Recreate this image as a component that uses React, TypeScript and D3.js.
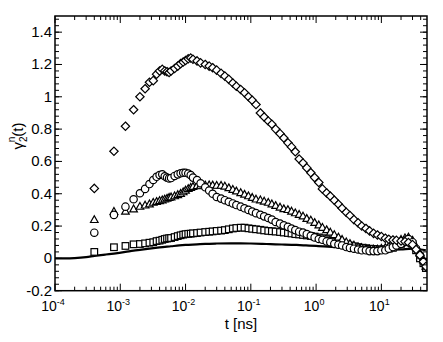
import React, { useEffect, useRef } from 'react';
import * as d3 from 'd3';

// time grid (ns) shared by the symbol series
const tValues = [
  4e-4, 8e-4, 1.2e-3, 1.6e-3, 2.0e-3, 2.4e-3, 2.8e-3, 3.2e-3, 3.6e-3, 4.0e-3,
  4.4e-3, 4.8e-3, 5.2e-3, 5.6e-3, 6.0e-3, 6.8e-3, 7.6e-3, 8.4e-3, 9.2e-3, 1.0e-2,
  1.1e-2, 1.2e-2, 1.3e-2, 1.5e-2, 1.7e-2, 2.0e-2, 2.3e-2, 2.6e-2, 3.0e-2, 3.5e-2,
  4.0e-2, 4.6e-2, 5.3e-2, 6.0e-2, 7.0e-2, 8.0e-2, 9.2e-2, 0.105, 0.12, 0.14,
  0.16, 0.185, 0.21, 0.24, 0.28, 0.32, 0.37, 0.42, 0.48, 0.55,
  0.63, 0.72, 0.83, 0.95, 1.1, 1.25, 1.45, 1.65, 1.9, 2.2,
  2.5, 2.9, 3.3, 3.8, 4.4, 5.0, 5.8, 6.6, 7.6, 8.7,
  10, 11.5, 13, 15, 17, 20, 23, 26, 30, 34,
  39, 44, 48,
];

const diamondValues = [
  0.433, 0.663, 0.818, 0.92, 1.0, 1.05, 1.09, 1.1, 1.14, 1.16,
  1.17, 1.16, 1.155, 1.15, 1.16, 1.175, 1.19, 1.205, 1.215, 1.225,
  1.235, 1.24, 1.232, 1.222, 1.21, 1.2, 1.19, 1.18, 1.165, 1.145,
  1.128, 1.108, 1.085, 1.065, 1.045, 1.025, 1.0, 0.978, 0.952, 0.9,
  0.875, 0.85, 0.83, 0.8, 0.772, 0.745, 0.715, 0.69, 0.66, 0.615,
  0.59, 0.56, 0.53, 0.5, 0.47, 0.43, 0.405, 0.385, 0.36, 0.335,
  0.31, 0.285, 0.265, 0.24, 0.22, 0.2, 0.185, 0.17, 0.155, 0.145,
  0.135, 0.125, 0.118, 0.114, 0.112, 0.108, 0.104, 0.098, 0.085, 0.055,
  0.02, -0.02, -0.05,
];

const circleValues = [
  0.159, 0.269, 0.32, 0.366, 0.403, 0.43, 0.46, 0.485, 0.505, 0.516,
  0.52, 0.508, 0.5, 0.495, 0.497, 0.51, 0.52, 0.527, 0.53, 0.53,
  0.525, 0.515, 0.5, 0.485, 0.465, 0.44, 0.42, 0.4, 0.38, 0.37,
  0.36, 0.35, 0.34, 0.33, 0.32, 0.31, 0.3, 0.29, 0.28, 0.27,
  0.26, 0.25, 0.24, 0.225, 0.215, 0.205, 0.195, 0.185, 0.175, 0.165,
  0.16, 0.15, 0.14, 0.13, 0.12, 0.115, 0.105, 0.1, 0.09, 0.085,
  0.08, 0.07, 0.065, 0.06, 0.055, 0.05, 0.05, 0.045, 0.045, 0.045,
  0.05, 0.05, 0.06, 0.07, 0.08, 0.09, 0.11, 0.12, 0.1, 0.06,
  0.02, -0.02, -0.04,
];

const triangleValues = [
  0.238, 0.289, 0.29, 0.304, 0.32, 0.328, 0.335, 0.345, 0.35, 0.355,
  0.36, 0.365, 0.37, 0.375, 0.378, 0.385, 0.392, 0.4, 0.41, 0.42,
  0.43, 0.437, 0.443, 0.448, 0.45, 0.452, 0.453, 0.452, 0.45, 0.45,
  0.445, 0.435, 0.425, 0.415, 0.405, 0.395, 0.385, 0.375, 0.365, 0.36,
  0.352, 0.345, 0.335, 0.325, 0.315, 0.305, 0.3, 0.29, 0.28, 0.27,
  0.26, 0.245, 0.235, 0.22, 0.205, 0.19, 0.175, 0.16, 0.145, 0.13,
  0.115, 0.1, 0.09, 0.08, 0.07, 0.065, 0.06, 0.055, 0.055, 0.055,
  0.06, 0.065, 0.075, 0.085, 0.1, 0.115, 0.125, 0.13, 0.11, 0.07,
  0.03, -0.01, -0.05,
];

const squareValues = [
  0.04, 0.069, 0.077, 0.087, 0.089, 0.093, 0.097, 0.1, 0.107, 0.11,
  0.115, 0.12, 0.123, 0.125, 0.126, 0.132, 0.138, 0.143, 0.147, 0.15,
  0.152, 0.153, 0.155, 0.157, 0.16, 0.163, 0.165, 0.167, 0.17, 0.172,
  0.175, 0.18, 0.185, 0.188, 0.19, 0.19, 0.186, 0.183, 0.18, 0.177,
  0.173, 0.17, 0.168, 0.166, 0.163, 0.16, 0.157, 0.154, 0.15, 0.148,
  0.145, 0.142, 0.139, 0.135, 0.13, 0.125, 0.118, 0.11, 0.104, 0.098,
  0.092, 0.086, 0.08, 0.075, 0.07, 0.066, 0.063, 0.06, 0.058, 0.056,
  0.055, 0.056, 0.06, 0.065, 0.075, 0.09, 0.1, 0.11, 0.09, 0.05,
  0.0, -0.03, -0.06,
];

// solid reference curve
const lineT = [
  1e-4, 1.5e-4, 2e-4, 3e-4, 4e-4, 6e-4, 8e-4, 1.2e-3, 1.6e-3, 2e-3,
  3e-3, 4e-3, 6e-3, 8e-3, 1e-2, 1.5e-2, 2e-2, 3e-2, 5e-2, 7e-2,
  0.1, 0.15, 0.2, 0.3, 0.5, 0.7, 1, 1.5, 2, 3,
  5, 7, 10, 15, 20, 30, 40, 48,
];
const lineValues = [
  0, 0, 0.002, 0.008, 0.015, 0.024, 0.03, 0.04, 0.048, 0.053,
  0.062, 0.068, 0.075, 0.08, 0.083, 0.087, 0.09, 0.092, 0.093, 0.093,
  0.092, 0.09, 0.088, 0.086, 0.083, 0.08, 0.077, 0.073, 0.069, 0.065,
  0.06, 0.057, 0.055, 0.054, 0.056, 0.06, 0.055, 0.05,
];

const xTickExps = [-4, -3, -2, -1, 0, 1];
const yTicks = [-0.2, 0, 0.2, 0.4, 0.6, 0.8, 1, 1.2, 1.4];

const FONT = "'Liberation Sans', Arial, Helvetica, sans-serif";

const App = () => {
  const svgRef = useRef<SVGSVGElement>(null);

  useEffect(() => {
    const width = 443;
    const height = 342;
    const left = 55;
    const right = 427;
    const top = 16;
    const bottom = 290.7;

    const svg = d3.select(svgRef.current).attr('width', width).attr('height', height);
    svg.selectAll('*').remove();

    const x = d3.scaleLog().domain([1e-4, 50]).range([left, right]);
    const y = d3.scaleLinear().domain([-0.2, 1.5]).range([bottom, top]);

    const clip = svg.append('clipPath').attr('id', 'plot-clip');
    clip.append('rect').attr('x', left).attr('y', top).attr('width', right - left).attr('height', bottom - top);

    const plot = svg.append('g').attr('clip-path', 'url(#plot-clip)');

    // solid curve
    const line = d3
      .line<number>()
      .x((_, i) => x(lineT[i]))
      .y((d) => y(d))
      .curve(d3.curveMonotoneX);
    plot
      .append('path')
      .attr('d', line(lineValues))
      .attr('fill', 'none')
      .attr('stroke', 'black')
      .attr('stroke-width', 2.2);

    const drawSeries = (values: number[], shape: string) => {
      const g = plot.append('g');
      values.forEach((v, i) => {
        const cx = x(tValues[i]);
        const cy = y(v);
        if (shape === 'circle') {
          g.append('circle').attr('cx', cx).attr('cy', cy).attr('r', 3.7);
        } else if (shape === 'square') {
          g.append('rect').attr('x', cx - 3.3).attr('y', cy - 3.3).attr('width', 6.6).attr('height', 6.6);
        } else if (shape === 'triangle') {
          g.append('path').attr('d', `M${cx},${cy - 4.2}L${cx + 3.8},${cy + 2.6}L${cx - 3.8},${cy + 2.6}Z`);
        } else {
          g.append('path').attr('d', `M${cx},${cy - 4.2}L${cx + 4.2},${cy}L${cx},${cy + 4.2}L${cx - 4.2},${cy}Z`);
        }
      });
      g.selectAll('*').attr('fill', 'white').attr('stroke', 'black').attr('stroke-width', 1.2);
    };

    drawSeries(squareValues, 'square');
    drawSeries(triangleValues, 'triangle');
    drawSeries(circleValues, 'circle');
    drawSeries(diamondValues, 'diamond');

    // frame
    svg
      .append('rect')
      .attr('x', left)
      .attr('y', top)
      .attr('width', right - left)
      .attr('height', bottom - top)
      .attr('fill', 'none')
      .attr('stroke', 'black')
      .attr('stroke-width', 1.5);

    const ticks = svg.append('g').attr('stroke', 'black').attr('stroke-width', 1);
    const major = 7;
    const minor = 4;

    // x ticks, inward on bottom and top
    const xMinor: number[] = [];
    for (let e = -4; e <= 1; e++) {
      for (let m = 2; m <= 9; m++) {
        const v = m * Math.pow(10, e);
        if (v < 50) xMinor.push(v);
      }
    }
    xTickExps.forEach((e) => {
      const px = x(Math.pow(10, e));
      ticks.append('line').attr('x1', px).attr('x2', px).attr('y1', bottom).attr('y2', bottom - major);
      ticks.append('line').attr('x1', px).attr('x2', px).attr('y1', top).attr('y2', top + major);
    });
    xMinor.forEach((v) => {
      const px = x(v);
      ticks.append('line').attr('x1', px).attr('x2', px).attr('y1', bottom).attr('y2', bottom - minor);
      ticks.append('line').attr('x1', px).attr('x2', px).attr('y1', top).attr('y2', top + minor);
    });

    // y ticks, inward on left and right
    yTicks.forEach((v) => {
      const py = y(v);
      ticks.append('line').attr('x1', left).attr('x2', left + major).attr('y1', py).attr('y2', py);
      ticks.append('line').attr('x1', right).attr('x2', right - major).attr('y1', py).attr('y2', py);
    });
    d3.range(-0.2, 1.5, 0.04).forEach((v) => {
      const py = y(v);
      ticks.append('line').attr('x1', left).attr('x2', left + minor).attr('y1', py).attr('y2', py);
      ticks.append('line').attr('x1', right).attr('x2', right - minor).attr('y1', py).attr('y2', py);
    });

    // tick labels
    const labels = svg.append('g').attr('font-family', FONT).attr('fill', 'black');
    yTicks.forEach((v) => {
      labels
        .append('text')
        .attr('x', left - 3)
        .attr('y', y(v) + 5)
        .attr('text-anchor', 'end')
        .attr('font-size', 15)
        .text(String(Math.round(v * 10) / 10));
    });
    xTickExps.forEach((e) => {
      const t = labels
        .append('text')
        .attr('x', x(Math.pow(10, e)) - 2)
        .attr('y', 311)
        .attr('text-anchor', 'middle')
        .attr('font-size', 14);
      t.append('tspan').text('10');
      t.append('tspan').attr('font-size', 9).attr('dy', -6).text(String(e));
    });

    labels
      .append('text')
      .attr('x', 241)
      .attr('y', 329)
      .attr('text-anchor', 'middle')
      .attr('font-size', 15)
      .text('t [ns]');

    const yl = labels
      .append('text')
      .attr('transform', 'translate(23,136) rotate(-90)')
      .attr('text-anchor', 'middle')
      .attr('font-size', 15);
    yl.append('tspan').text('γ');
    yl.append('tspan').attr('font-size', 10).attr('dy', 4).text('2');
    yl.append('tspan').attr('font-size', 10).attr('dx', -6).attr('dy', -12).text('n');
    yl.append('tspan').attr('dy', 8).text('(t)');
  }, []);

  return (
    <div style={{ width: 443, height: 342 }}>
      <svg ref={svgRef} style={{ position: 'absolute', left: 0, top: 0 }} />
    </div>
  );
};

export default App;
